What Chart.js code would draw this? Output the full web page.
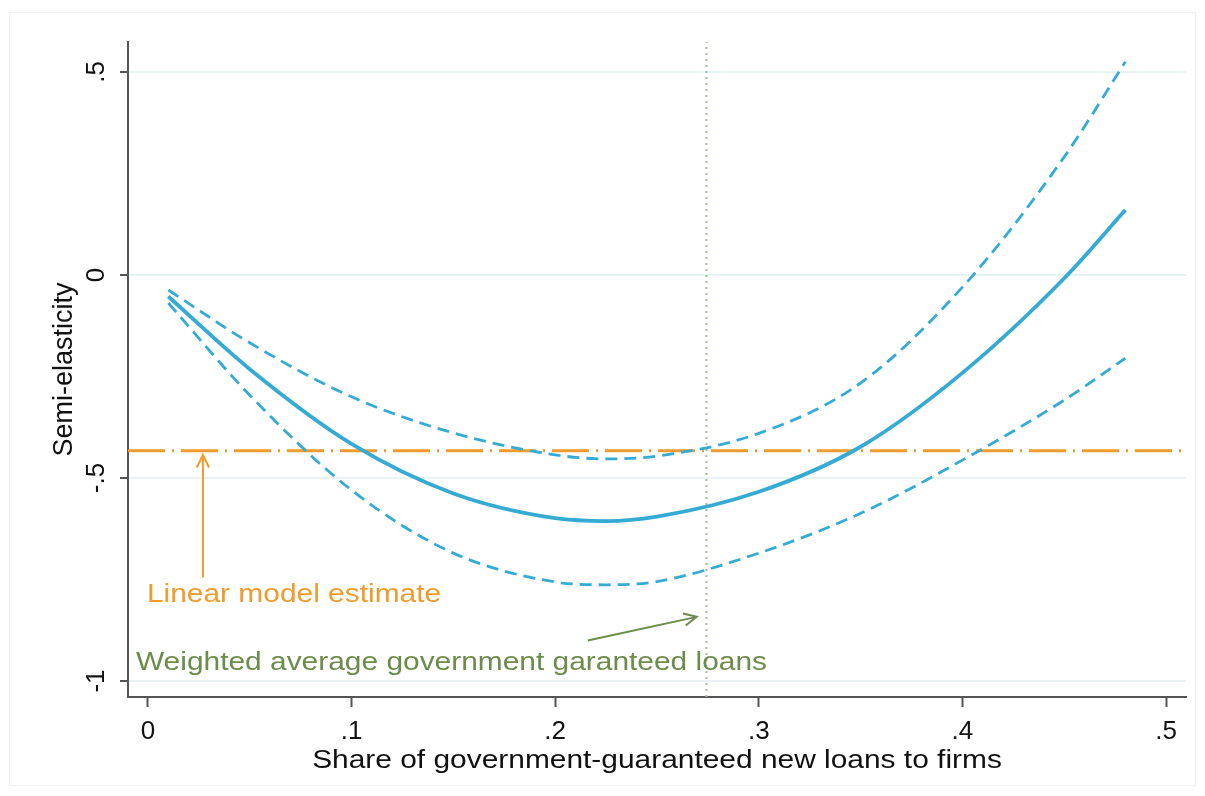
<!DOCTYPE html>
<html>
<head>
<meta charset="utf-8">
<script src="https://cdn.jsdelivr.net/npm/chart.js@4/dist/chart.umd.min.js"></script>
<style>
  html, body { margin: 0; padding: 0; background: #fff; }
  #wrap { width: 1205px; height: 796px; }
</style>
</head>
<body>
<div id="wrap"><canvas id="chart" width="1205" height="796"></canvas></div>
<script>
    // values
    const shares = [0.01, 0.05, 0.10, 0.15, 0.20, 0.225, 0.25, 0.30, 0.35, 0.40, 0.45, 0.48];
    const estimate = [-0.053, -0.232, -0.416, -0.538, -0.599, -0.606, -0.595, -0.534, -0.423, -0.241, -0.008, 0.160];
    const upperCI = [-0.037, -0.167, -0.300, -0.389, -0.443, -0.453, -0.446, -0.390, -0.266, -0.030, 0.291, 0.525];
    const lowerCI = [-0.069, -0.296, -0.530, -0.685, -0.756, -0.763, -0.755, -0.685, -0.587, -0.456, -0.308, -0.205];

    const linearEstimate = -0.433;
    const weightedAvgShare = 0.2743;

    const xTicks = [0, 0.1, 0.2, 0.3, 0.4, 0.5];
    const yTicks = [-1, -0.5, 0, 0.5];

    const X_MIN = -0.0098, X_MAX = 0.5098;
    const Y_MIN = -1.0394, Y_MAX = 0.5739;

    const FONT = "'Liberation Sans', Arial, sans-serif";
    const TEXT_STRETCH = 1.15;   // the original's text runs wider than Arial
    const BLUE = "#35abd4";
    const ORANGE = "#f19b2c";
    const GREEN_LINE = "#97c596";
    const GREEN_TEXT = "#6b8c4b";

    function stataLabel(v) {
        if (Math.abs(v) < 1e-9) return "0";
        let s = String(Math.round(v * 100) / 100);
        return s.replace(/^0\./, ".").replace(/^-0\./, "-.");
    }

    function toPoints(xs, ys) {
        return xs.map((x, i) => ({ x: x, y: ys[i] }));
    }

    function wideText(ctx, text, x, y, align) {
        ctx.save();
        ctx.translate(x, y);
        ctx.scale(TEXT_STRETCH, 1);
        ctx.textAlign = align;
        ctx.fillText(text, 0, 0);
        ctx.restore();
    }

    // text + arrow annotations, in data coordinates
    const notes = [
        { text: "Linear model estimate", color: ORANGE, x: -0.0005, y: -0.806,
          from: [0.027, -0.745], to: [0.027, -0.443] },
        { text: "Weighted average government garanteed loans", color: GREEN_TEXT, x: -0.0059, y: -0.973,
          from: [0.216, -0.900], to: [0.2695, -0.842] }
    ];

    const annotationPlugin = {
        id: "notes",
        afterDatasetsDraw(chart) {
            const ctx = chart.ctx;
            const xs = chart.scales.x, ys = chart.scales.y;
            ctx.save();
            ctx.textBaseline = "alphabetic";
            notes.forEach(n => {
                ctx.font = "26px " + FONT;
                ctx.fillStyle = n.color;
                wideText(ctx, n.text, xs.getPixelForValue(n.x), ys.getPixelForValue(n.y), "left");

                const x1 = xs.getPixelForValue(n.from[0]), y1 = ys.getPixelForValue(n.from[1]);
                const x2 = xs.getPixelForValue(n.to[0]), y2 = ys.getPixelForValue(n.to[1]);
                ctx.strokeStyle = n.color;
                ctx.lineWidth = 2;
                ctx.beginPath();
                ctx.moveTo(x1, y1);
                ctx.lineTo(x2, y2);
                const a = Math.atan2(y2 - y1, x2 - x1);
                const len = 14, spread = Math.PI / 7;
                ctx.moveTo(x2 - len * Math.cos(a - spread), y2 - len * Math.sin(a - spread));
                ctx.lineTo(x2, y2);
                ctx.lineTo(x2 - len * Math.cos(a + spread), y2 - len * Math.sin(a + spread));
                ctx.stroke();
            });

            // x axis title, centred under the plot area
            ctx.font = "26px " + FONT;
            ctx.fillStyle = "#111";
            wideText(ctx, "Share of government-guaranteed new loans to firms",
                (chart.chartArea.left + chart.chartArea.right) / 2, 768, "center");

            // rotated y tick labels (Stata style)
            ctx.font = "26px " + FONT;
            ctx.textAlign = "center";
            ctx.textBaseline = "middle";
            yTicks.forEach(v => {
                const py = ys.getPixelForValue(v);
                ctx.save();
                ctx.translate(97, py);
                ctx.rotate(-Math.PI / 2);
                ctx.fillText(stataLabel(v), 0, 0);
                ctx.restore();
            });
            ctx.restore();
        },
        beforeDraw(chart) {
            const ctx = chart.ctx;
            ctx.save();
            ctx.fillStyle = "#fff";
            ctx.fillRect(0, 0, chart.width, chart.height);
            ctx.strokeStyle = "#f1f1f1";
            ctx.lineWidth = 1;
            ctx.strokeRect(9.5, 12.5, 1186, 773);
            ctx.restore();
        }
    };

    const lineBase = { showLine: true, pointRadius: 0, pointHoverRadius: 0, fill: false };

    const cfg = {
        type: "scatter",
        data: {
            datasets: [
                Object.assign({}, lineBase, {
                    label: "Upper CI", data: toPoints(shares, upperCI),
                    borderColor: BLUE, borderWidth: 2.8, borderDash: [12, 7],
                    cubicInterpolationMode: "monotone"
                }),
                Object.assign({}, lineBase, {
                    label: "Lower CI", data: toPoints(shares, lowerCI),
                    borderColor: BLUE, borderWidth: 2.8, borderDash: [12, 7],
                    cubicInterpolationMode: "monotone"
                }),
                Object.assign({}, lineBase, {
                    label: "Semi-elasticity", data: toPoints(shares, estimate),
                    borderColor: BLUE, borderWidth: 3.8,
                    cubicInterpolationMode: "monotone"
                }),
                Object.assign({}, lineBase, {
                    label: "Linear model estimate",
                    data: [{ x: X_MIN, y: linearEstimate }, { x: X_MAX, y: linearEstimate }],
                    borderColor: ORANGE, borderWidth: 3, borderDash: [37, 7, 2, 7]
                }),
                Object.assign({}, lineBase, {
                    label: "Weighted average",
                    data: [{ x: weightedAvgShare, y: Y_MIN }, { x: weightedAvgShare, y: Y_MAX }],
                    borderColor: GREEN_LINE, borderWidth: 2, borderDash: [2, 4]
                })
            ]
        },
        options: {
            responsive: false,
            animation: false,
            layout: { padding: { left: 0, right: 19, top: 42, bottom: 0 } },
            plugins: {
                legend: { display: false },
                tooltip: { enabled: false }
            },
            scales: {
                x: {
                    type: "linear",
                    min: X_MIN, max: X_MAX,
                    afterBuildTicks: s => { s.ticks = xTicks.map(v => ({ value: v })); },
                    afterFit: s => { s.height = 99; },
                    grid: { drawOnChartArea: false, tickLength: 10, tickColor: "#555", tickWidth: 2 },
                    border: { display: true, color: "#555", width: 2 },
                    ticks: {
                        padding: 9, color: "#111", maxRotation: 0,
                        font: { family: FONT, size: 26 },
                        callback: v => stataLabel(v)
                    },
                    title: { display: false }
                },
                y: {
                    type: "linear",
                    min: Y_MIN, max: Y_MAX,
                    afterBuildTicks: s => { s.ticks = yTicks.map(v => ({ value: v })); },
                    afterFit: s => { s.width = 128; },
                    grid: { color: "#eaf3f4", lineWidth: 2, tickLength: 8, tickColor: "#555", tickWidth: 2 },
                    border: { display: true, color: "#555", width: 2 },
                    ticks: { display: false },
                    title: {
                        display: true,
                        text: "Semi-elasticity",
                        color: "#111",
                        font: { family: FONT, size: 27 },
                        padding: { top: 48, bottom: 0 }
                    }
                }
            }
        },
        plugins: [annotationPlugin]
    };

    new Chart(document.getElementById("chart").getContext("2d"), cfg);
</script>
</body>
</html>
